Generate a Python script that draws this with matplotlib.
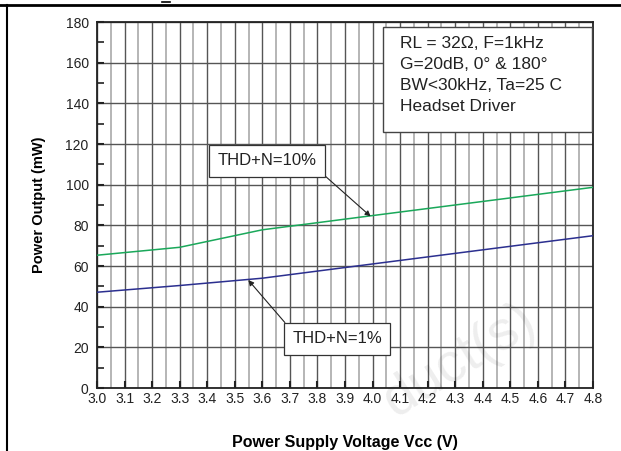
import numpy as np
import matplotlib
matplotlib.use("Agg")
import matplotlib.pyplot as plt
from matplotlib.ticker import MultipleLocator
from matplotlib.lines import Line2D
from matplotlib.patches import Rectangle

# values
vcc = [3.0, 3.3, 3.6, 4.0, 4.8]
thd10 = [65.3, 69.2, 77.8, 84.8, 98.7]
thd1 = [47.1, 50.4, 54.0, 61.0, 74.9]
xticks = np.round(np.arange(3.0, 4.81, 0.1), 1)
yticks = list(range(0, 181, 20))
cond_text = "RL = 32\u03a9, F=1kHz\nG=20dB, 0\u00b0 & 180\u00b0\nBW<30kHz, Ta=25 C\nHeadset Driver"

plt.rcParams['font.family'] = ['Liberation Sans', 'DejaVu Sans']

fig = plt.figure(figsize=(6.21, 4.51), dpi=100)
W, H = 621, 451
ax = fig.add_axes([97 / W, 1 - 388 / H, 496 / W, 366 / H])

ax.set_xlim(3.0, 4.8)
ax.set_ylim(0, 180)
ax.set_xticks(xticks)
ax.set_xticklabels([f"{v:.1f}" for v in xticks])
ax.set_yticks(yticks)
ax.xaxis.set_minor_locator(MultipleLocator(0.05))
ax.yaxis.set_minor_locator(MultipleLocator(10))

# grid: dark major, light minor verticals
ax.grid(which='major', axis='both', color='#555555', lw=1.0)
ax.grid(which='minor', axis='x', color='#b0b0b0', lw=1.3)
ax.set_axisbelow(True)

ax.tick_params(which='both', direction='in', labelsize=10, colors='#222222')
ax.tick_params(which='major', length=5, width=1.5)
ax.tick_params(which='minor', length=5, width=1.2)
ax.tick_params(axis='x', which='minor', length=0)
ax.tick_params(axis='x', pad=3)
ax.tick_params(axis='y', pad=6)
for s in ax.spines.values():
    s.set_linewidth(1.3)
    s.set_color('#222222')

ax.plot(vcc, thd10, color='#1aa85a', lw=1.1, zorder=3)
ax.plot(vcc, thd1, color='#2b2f8f', lw=1.1, zorder=3)

ax.set_xlabel("Power Supply Voltage Vcc (V)", fontsize=11.5, fontweight='bold', labelpad=21)
ax.set_ylabel("Power Output (mW)", fontsize=10.5, fontweight='bold', labelpad=14)

# condition box
ax.add_patch(Rectangle((0.576, 0.700), 0.421, 0.285, transform=ax.transAxes,
                       fc='white', ec='#444444', lw=1.0, zorder=5))
ax.text(0.611, 0.962, cond_text, transform=ax.transAxes, fontsize=12.5, va='top', ha='left',
        linespacing=1.5, color='#222222', zorder=6)

# callouts
ax.annotate("THD+N=10%", xy=(3.993, thd10[3] - 0.4), xytext=(3.617, 111.7),
            fontsize=12, ha='center', va='center', color='#222222', zorder=5,
            bbox=dict(boxstyle='square,pad=0.5', fc='white', ec='#333333', lw=0.9),
            arrowprops=dict(arrowstyle='-|>', color='#222222', lw=0.8, mutation_scale=8,
                            shrinkA=0, shrinkB=0, relpos=(1.0, 0.0)))
ax.annotate("THD+N=1%", xy=(3.549, 53.1), xytext=(3.872, 24.2),
            fontsize=12, ha='center', va='center', color='#222222', zorder=5,
            bbox=dict(boxstyle='square,pad=0.5', fc='white', ec='#333333', lw=0.9),
            arrowprops=dict(arrowstyle='-|>', color='#222222', lw=0.8, mutation_scale=8,
                            shrinkA=0, shrinkB=0, relpos=(0.0, 1.0)))

# faint watermark
fig.text(0.74, 0.2, "duct(s)", fontsize=40, color='#000000', alpha=0.07,
         rotation=32, ha='center', va='center')

# page frame lines
fig.add_artist(Line2D([0, 1], [1 - 5 / H, 1 - 5 / H], color='black', lw=2))
fig.add_artist(Line2D([7 / W, 7 / W], [0, 1 - 5 / H], color='black', lw=1.5))
fig.add_artist(Line2D([162 / W, 170 / W], [1 - 2 / H, 1 - 2 / H], color='black', lw=1.2))

fig.savefig("out.png", dpi=100)
